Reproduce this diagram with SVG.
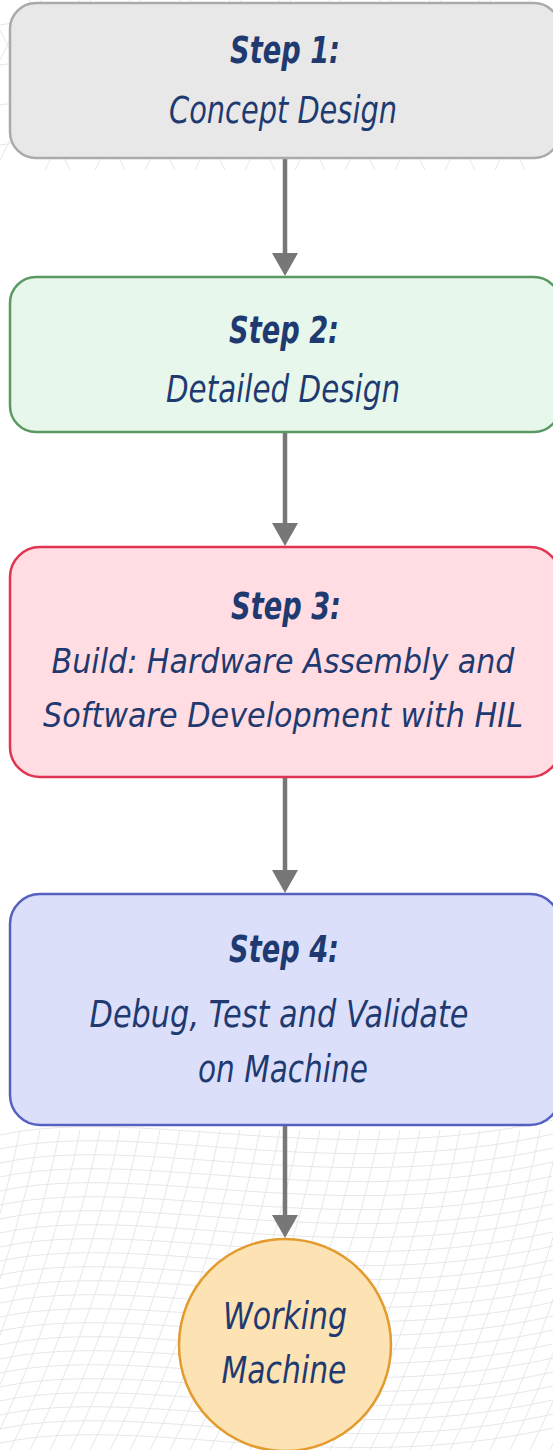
<svg xmlns="http://www.w3.org/2000/svg" width="553" height="1450" viewBox="0 0 553 1450">
  <style>
    .mesh { fill: none; stroke: #e4e4e9; stroke-width: 0.9; }
    .box { stroke-width: 2.5; }
    .title { font-family: "DejaVu Sans Condensed", "Liberation Sans Narrow", "Liberation Sans", sans-serif; font-style: italic; font-weight: bold; font-size: 38px; fill: #1f3a70; text-anchor: middle; }
    .label { font-family: "DejaVu Sans Condensed", "Liberation Sans Narrow", "Liberation Sans", sans-serif; font-style: italic; font-size: 37px; fill: #1f3a70; text-anchor: middle; }
    .small { font-size: 34px; }
    .edge { stroke: #777777; stroke-width: 4.5; fill: none; }
    .head { fill: #777777; }
  </style>
  <rect width="553" height="1450" fill="#ffffff"/>

  <!-- faint wave mesh backdrop -->
  <g id="backdrop" class="mesh">
    <path d="M0,25 C120,5 250,45 553,15 M0,65 C140,45 260,85 553,55 M0,105 C130,85 270,130 553,100 M0,145 C150,125 280,170 553,140"/>
    <path d="M30,0 L0,60 M80,0 L0,160 M130,0 L45,170 M180,0 L95,170 M230,0 L145,170 M280,0 L195,170 M330,0 L245,170 M380,0 L295,170 M430,0 L345,170 M480,0 L395,170 M530,0 L445,170 M553,40 L495,170"/>
    <path d="M0,30 L70,170 M40,0 L125,170 M90,0 L175,170 M140,0 L225,170 M190,0 L275,170 M240,0 L325,170 M290,0 L375,170 M340,0 L425,170 M390,0 L475,170 M440,0 L525,170 M490,0 L553,126"/>
    <path d="M0,1135 C140,1105 330,1170 553,1120 M0,1149 C140,1119 330,1184 553,1134 M0,1163 C140,1133 330,1198 553,1148 M0,1177 C140,1147 330,1212 553,1162 M0,1191 C140,1161 330,1226 553,1176 M0,1205 C140,1175 330,1240 553,1190 M0,1219 C140,1189 330,1254 553,1204 M0,1233 C140,1203 330,1268 553,1218 M0,1247 C140,1217 330,1282 553,1232 M0,1261 C140,1231 330,1296 553,1246 M0,1275 C140,1245 330,1310 553,1260 M0,1289 C140,1259 330,1324 553,1274 M0,1303 C140,1273 330,1338 553,1288 M0,1317 C140,1287 330,1352 553,1302 M0,1331 C140,1301 330,1366 553,1316 M0,1345 C140,1315 330,1380 553,1330 M0,1359 C140,1329 330,1394 553,1344 M0,1373 C140,1343 330,1408 553,1358 M0,1387 C140,1357 330,1422 553,1372 M0,1401 C140,1371 330,1436 553,1386 M0,1415 C140,1385 330,1450 553,1400 M0,1429 C140,1399 330,1464 553,1414 M0,1443 C140,1413 330,1478 553,1428"/>
    <path d="M20,1130 C0,1230 -40,1350 -90,1450 M40,1130 C20,1230 -20,1350 -70,1450 M60,1130 C40,1230 0,1350 -50,1450 M80,1130 C60,1230 20,1350 -30,1450 M100,1130 C80,1230 40,1350 -10,1450 M120,1130 C100,1230 60,1350 10,1450 M140,1130 C120,1230 80,1350 30,1450 M160,1130 C140,1230 100,1350 50,1450 M180,1130 C160,1230 120,1350 70,1450 M200,1130 C180,1230 140,1350 90,1450 M220,1130 C200,1230 160,1350 110,1450 M240,1130 C220,1230 180,1350 130,1450 M260,1130 C240,1230 200,1350 150,1450 M280,1130 C260,1230 220,1350 170,1450 M300,1130 C280,1230 240,1350 190,1450 M320,1130 C300,1230 260,1350 210,1450 M340,1130 C320,1230 280,1350 230,1450 M360,1130 C340,1230 300,1350 250,1450 M380,1130 C360,1230 320,1350 270,1450 M400,1130 C380,1230 340,1350 290,1450 M420,1130 C400,1230 360,1350 310,1450 M440,1130 C420,1230 380,1350 330,1450 M460,1130 C440,1230 400,1350 350,1450 M480,1130 C460,1230 420,1350 370,1450 M500,1130 C480,1230 440,1350 390,1450 M520,1130 C500,1230 460,1350 410,1450 M540,1130 C520,1230 480,1350 430,1450 M560,1130 C540,1230 500,1350 450,1450 M580,1130 C560,1230 520,1350 470,1450 M600,1130 C580,1230 540,1350 490,1450 M620,1130 C600,1230 560,1350 510,1450 M640,1130 C620,1230 580,1350 530,1450 M660,1130 C640,1230 600,1350 550,1450"/>
  </g>

  <!-- connectors -->
  <g id="connectors">
    <line class="edge" x1="285" y1="158" x2="285" y2="256"/>
    <polygon class="head" points="272,253 298,253 285,276"/>
    <line class="edge" x1="285" y1="432" x2="285" y2="526"/>
    <polygon class="head" points="272,523 298,523 285,546"/>
    <line class="edge" x1="285" y1="777" x2="285" y2="873"/>
    <polygon class="head" points="272,870 298,870 285,893"/>
    <line class="edge" x1="285" y1="1125" x2="285" y2="1218"/>
    <polygon class="head" points="272,1215 298,1215 285,1238"/>
  </g>

  <g id="step1">
    <rect class="box" x="10" y="3" width="550" height="155" rx="26" fill="#e8e8e8" stroke="#aaaaaa"/>
    <text class="title" x="285" y="63" textLength="110" lengthAdjust="spacingAndGlyphs">Step 1:</text>
    <text class="label" x="283" y="123" textLength="228" lengthAdjust="spacingAndGlyphs">Concept Design</text>
  </g>

  <g id="step2">
    <rect class="box" x="10" y="277" width="550" height="155" rx="26" fill="#e8f7ec" stroke="#5a9a62"/>
    <text class="title" x="284" y="343" textLength="110" lengthAdjust="spacingAndGlyphs">Step 2:</text>
    <text class="label" x="283" y="402" textLength="234" lengthAdjust="spacingAndGlyphs">Detailed Design</text>
  </g>

  <g id="step3">
    <rect class="box" x="10" y="547" width="550" height="230" rx="30" fill="#ffdde2" stroke="#e03552"/>
    <text class="title" x="286" y="619" textLength="110" lengthAdjust="spacingAndGlyphs">Step 3:</text>
    <text class="label small" x="283" y="673" textLength="463" lengthAdjust="spacingAndGlyphs">Build: Hardware Assembly and</text>
    <text class="label small" x="283" y="727" textLength="480" lengthAdjust="spacingAndGlyphs">Software Development with HIL</text>
  </g>

  <g id="step4">
    <rect class="box" x="10" y="894" width="550" height="231" rx="30" fill="#dcdffa" stroke="#5560c0"/>
    <text class="title" x="284" y="962" textLength="110" lengthAdjust="spacingAndGlyphs">Step 4:</text>
    <text class="label" x="279" y="1027" textLength="379" lengthAdjust="spacingAndGlyphs">Debug, Test and Validate</text>
    <text class="label" x="283" y="1082" textLength="170" lengthAdjust="spacingAndGlyphs">on Machine</text>
  </g>

  <g id="result">
    <circle cx="285" cy="1345" r="106" fill="#fde3b4" stroke="#e39a2e" stroke-width="2.5"/>
    <text class="label" x="285" y="1329" textLength="124" lengthAdjust="spacingAndGlyphs">Working</text>
    <text class="label" x="284" y="1383" textLength="125" lengthAdjust="spacingAndGlyphs">Machine</text>
  </g>
</svg>
